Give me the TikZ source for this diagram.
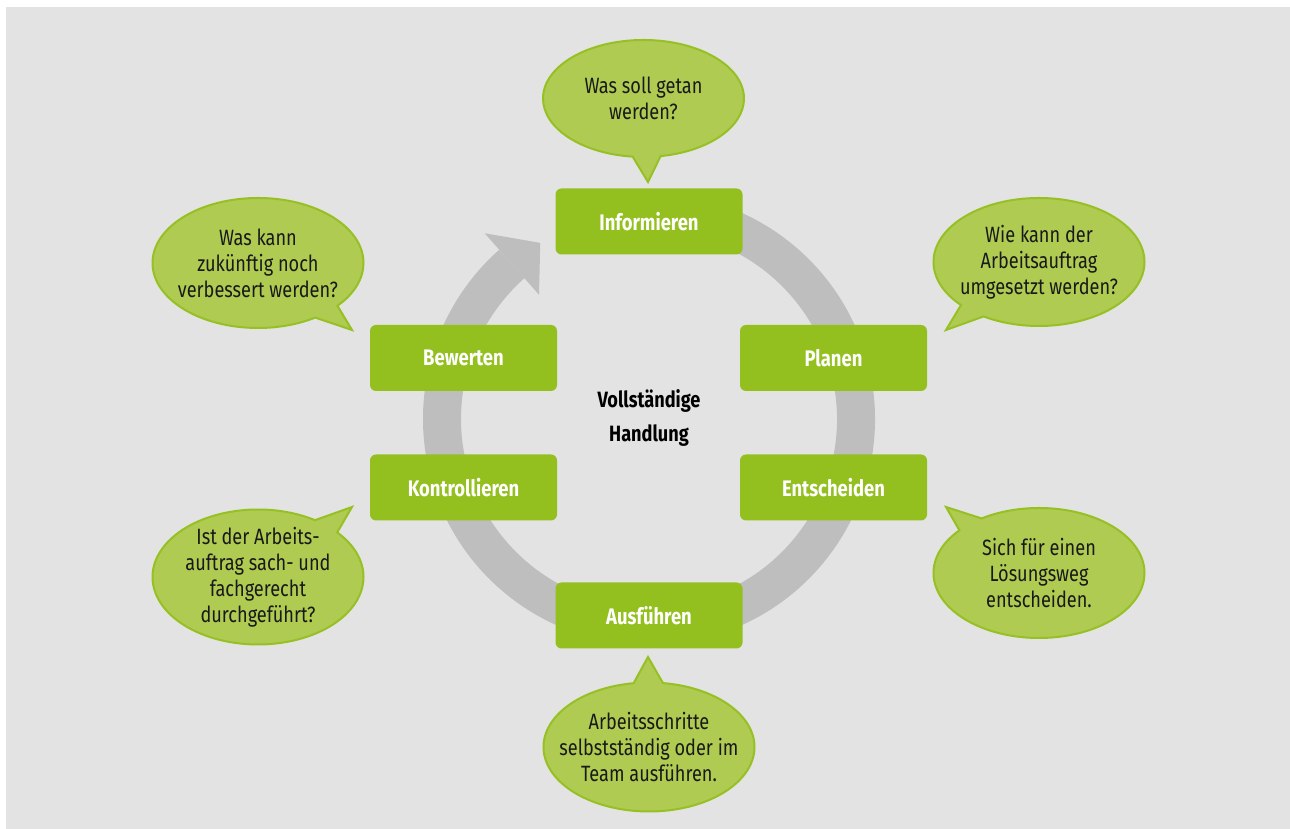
\documentclass[tikz,border=0pt]{standalone}
\usepackage{fontspec}
\setmainfont[FakeStretch=0.82]{Fira Sans}
\usepackage{tikz}
\usetikzlibrary{shapes.callouts}

\definecolor{bggray}{RGB}{227,227,227}
\definecolor{ringgray}{RGB}{190,190,190}
\definecolor{boxgreen}{RGB}{147,192,31}
\definecolor{bubblegreen}{RGB}{175,203,82}
\definecolor{bubbleline}{RGB}{150,192,36}
\definecolor{inktext}{RGB}{25,25,25}

\begin{document}
\begin{tikzpicture}[
	stepbox/.style={fill=boxgreen, rounded corners=0.12cm, minimum width=3.74cm, minimum height=1.32cm,
		inner sep=0pt, text=white, font=\fontsize{12.8}{14.8}\selectfont\bfseries},
	bubble/.style={ellipse callout, fill=bubblegreen, draw=bubbleline, line width=0.04cm,
		inner sep=0pt, callout pointer arc=16},
	bubbletext/.style={align=center, text=inktext, inner sep=0pt, font=\fontsize{12.6}{14.8}\selectfont},
	ring/.style={draw=ringgray, line width=0.76cm}]
\useasboundingbox (0,0) rectangle (25.8,16.58);
\fill[bggray] (0.12,0) rectangle (25.8,16.44);

% circular arrow behind the boxes
\begin{scope}[shift={(12.98,8.20)}]
\draw[ring] (100:4.14) arc[start angle=100, end angle=-228.5, radius=4.14];
\fill[ringgray] (131.5:4.96) -- (121.7:4.14) -- (131.5:3.32) -- cycle;
\end{scope}

\path (12.98,12.15) node[stepbox] (info) {Informieren}
	(16.67,9.42) node[stepbox] (plan) {Planen}
	(16.67,6.83) node[stepbox] (ents) {Entscheiden}
	(12.98,4.27) node[stepbox] (ausf) {Ausführen}
	(9.27,6.83) node[stepbox] (kontr) {Kontrollieren}
	(9.27,9.42) node[stepbox] (bew) {Bewerten}
	(12.98,8.22) node[align=center, inner sep=0pt, font=\fontsize{12.6}{19.9}\selectfont\bfseries] (hdl) {Vollständige\\Handlung};

% speech bubbles
\node[bubble, minimum width=4.02cm, minimum height=2.34cm, callout absolute pointer={(12.96,12.94)}] (q-info) at (12.87,14.61) {};
\node[bubble, minimum width=4.22cm, minimum height=2.56cm, callout absolute pointer={(18.92,9.98)}] (q-plan) at (20.78,11.34) {};
\node[bubble, minimum width=4.22cm, minimum height=2.6cm, callout absolute pointer={(18.92,6.44)}] (q-ents) at (20.78,5.12) {};
\node[bubble, minimum width=4.22cm, minimum height=2.58cm, callout absolute pointer={(12.96,3.44)}] (q-ausf) at (12.98,1.64) {};
\node[bubble, minimum width=4.22cm, minimum height=2.7cm, callout absolute pointer={(7.04,6.44)}] (q-kontr) at (5.16,5.04) {};
\node[bubble, minimum width=4.22cm, minimum height=2.6cm, callout absolute pointer={(7.04,9.98)}] (q-bew) at (5.16,11.32) {};

\node[bubbletext] (t-info) at (q-info) {Was soll getan\\werden?};
\node[bubbletext] (t-plan) at (q-plan) {Wie kann der\\Arbeitsauftrag\\umgesetzt werden?};
\node[bubbletext] (t-ents) at (q-ents) {Sich für einen\\Lösungsweg\\entscheiden.};
\node[bubbletext] (t-ausf) at (q-ausf) {Arbeitsschritte\\selbstständig oder im\\Team ausführen.};
\node[bubbletext] (t-kontr) at (q-kontr) {Ist der Arbeits-\\auftrag sach- und\\fachgerecht\\durchgeführt?};
\node[bubbletext] (t-bew) at (q-bew) {Was kann\\zukünftig noch\\verbessert werden?};
\end{tikzpicture}
\end{document}
